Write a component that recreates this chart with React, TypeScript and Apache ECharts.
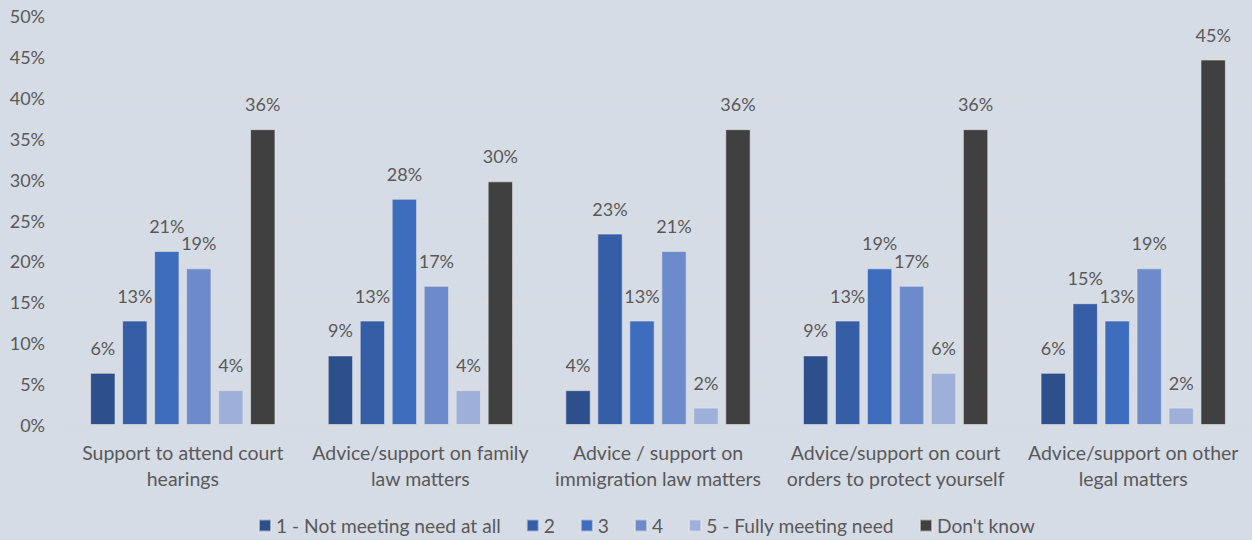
import React, { useEffect, useRef } from "react";
import * as echarts from "echarts";

const categories = [
  "Support to attend court\nhearings",
  "Advice/support on family\nlaw matters",
  "Advice / support on\nimmigration law matters",
  "Advice/support on court\norders to protect yourself",
  "Advice/support on other\nlegal matters",
];

const seriesNames = [
  "1 - Not meeting need at all",
  "2",
  "3",
  "4",
  "5 - Fully meeting need",
  "Don't know",
];

const s1 = [6.38, 8.51, 4.26, 8.51, 6.38];
const s2 = [12.77, 12.77, 23.4, 12.77, 14.89];
const s3 = [21.28, 27.66, 12.77, 19.15, 12.77];
const s4 = [19.15, 17.02, 21.28, 17.02, 19.15];
const s5 = [4.26, 4.26, 2.13, 6.38, 2.13];
const s6 = [36.17, 29.79, 36.17, 36.17, 44.68];

const colors = ["#2D4F8B", "#365EA6", "#3E6DBE", "#6D8ACB", "#9EAFDA", "#404040"];

export default function App() {
  const ref = useRef<HTMLDivElement>(null);
  useEffect(() => {
    document.body.style.margin = "0";
    const chart = echarts.init(ref.current!, undefined, { renderer: "svg" });
    const data = [s1, s2, s3, s4, s5, s6];
    const font = "Lato, 'Open Sans', sans-serif";
    chart.setOption({
      animation: false,
      backgroundColor: "#D6DCE5",
      textStyle: { fontFamily: font },
      grid: { left: 64, right: 0, top: 16, bottom: 115 },
      legend: {
        bottom: 0,
        left: 253,
        itemWidth: 12,
        itemHeight: 12,
        itemGap: 25,
        icon: "rect",
        textStyle: { color: "#595959", fontSize: 19.2, fontFamily: font },
        data: seriesNames,
      },
      xAxis: {
        type: "category",
        data: categories,
        axisLine: { show: true, lineStyle: { color: "#D9D9D9", width: 1 } },
        axisTick: { show: false },
        axisLabel: {
          color: "#595959",
          fontSize: 19.5,
          lineHeight: 26,
          margin: 14,
          interval: 0,
          fontFamily: font,
        },
      },
      yAxis: {
        type: "value",
        min: 0,
        max: 50,
        interval: 5,
        axisLine: { show: false },
        axisTick: { show: false },
        splitLine: { lineStyle: { color: "#DCDCDC", width: 1.5 } },
        axisLabel: {
          color: "#595959",
          fontSize: 18,
          margin: 19,
          formatter: (v: number) => v + "%",
          fontFamily: font,
        },
      },
      series: seriesNames.map((name, i) => ({
        name,
        type: "bar",
        data: data[i],
        barGap: "26%",
        barCategoryGap: "22%",
        itemStyle: { color: colors[i], borderColor: "rgba(230,230,230,0.6)", borderWidth: 1 },
        label: {
          show: true,
          position: "top",
          distance: 16,
          color: "#595959",
          fontSize: 18,
          fontFamily: font,
          formatter: (p: any) => Math.round(p.value) + "%",
        },
      })),
    });
    return () => chart.dispose();
  }, []);
  return <div ref={ref} style={{ width: 1252, height: 540 }} />;
}
